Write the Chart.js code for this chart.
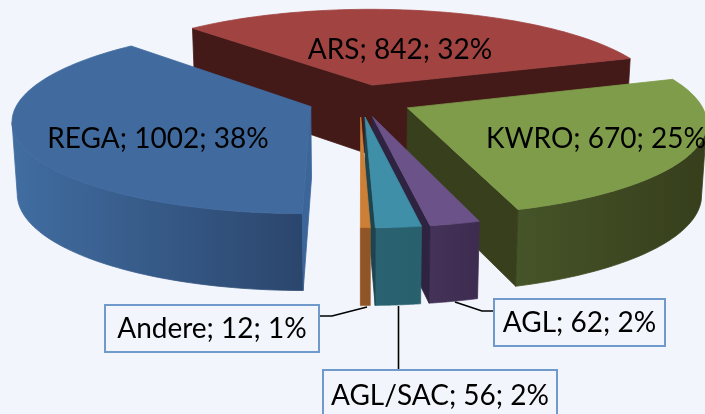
<!DOCTYPE html>
<html>
<head>
<meta charset="utf-8">
<script src="https://cdn.jsdelivr.net/npm/chart.js@4/dist/chart.umd.min.js"></script>
<style>
    html, body { margin: 0; padding: 0; background: #f2f5fb; overflow: hidden; }
    canvas { display: block; }
</style>
</head>
<body>
<canvas id="pieChart" width="705" height="414"></canvas>
<script>
const categories = ['ARS', 'KWRO', 'AGL', 'AGL/SAC', 'Andere', 'REGA'];
const values = [842, 670, 62, 56, 12, 1002];
const percents = [32, 25, 2, 2, 1, 38];

// one colour per slice: top face, side facing the centre, outer wall left and right
const topColors = ['#a04341', '#7f9c4a', '#6b5288', '#3f8fa8', '#cc7f36', '#416b9f'];
const sideColors = ['#431a18', '#383f1c', '#2e2340', '#1d4550', '#8f5526', '#3c6699'];
const wallFrom = ['#6b2c2a', '#465429', '#443258', '#2a6271', '#8f5526', '#416da1'];
const wallTo = ['#6b2c2a', '#363e1b', '#3d2c50', '#28606e', '#8f5526', '#2b466d'];

// camera used to tilt the flat pie
const camera = { x: 360, y: 100.5, flat: 90.3, persp: 0.139, depth: 71, shrink: 0.985 };

// back to front
const drawOrder = [0, 5, 1, 2, 3, 4];

// label placement, same order as categories
const labelLayout = [
    { x: 400, y: 50 },
    { x: 596, y: 139 },
    { x: 579.5, y: 323, box: [494, 299, 171, 47], leader: [[455, 302], [482, 311], [494, 311]] },
    { x: 440, y: 396, box: [323, 370, 234, 50], leader: [[398.5, 306], [398.5, 370]] },
    { x: 212, y: 329, box: [105, 305, 214, 47], leader: [[367, 307], [332, 316], [319, 316]] },
    { x: 158, y: 139 }
];

function project(X, Y, radius) {
    const s = 1 / (1 - Y * camera.persp);
    const px = camera.x + radius * X * s;
    const py = camera.y + camera.flat * Y * s;
    return {
        x: px,
        y: py,
        bx: camera.x + (px - camera.x) * camera.shrink,
        by: py + camera.depth * Math.sqrt(s)
    };
}

function fillPath(ctx, points, style) {
    ctx.beginPath();
    points.forEach((p, i) => i ? ctx.lineTo(p[0], p[1]) : ctx.moveTo(p[0], p[1]));
    ctx.closePath();
    ctx.fillStyle = style;
    ctx.fill();
    ctx.strokeStyle = style;
    ctx.lineWidth = 0.8;
    ctx.stroke();
}

function drawSlice(ctx, arc, i) {
    const radius = arc.outerRadius;
    const mid = (arc.startAngle + arc.endAngle) / 2;
    const explode = arc.options.offset / 4 / radius;
    const ox = Math.cos(mid) * explode;
    const oy = Math.sin(mid) * explode;
    const camY = 1 / camera.persp;

    const apex = project(ox, oy, radius);
    const rim = [];
    const steps = 90;
    for (let n = 0; n <= steps; n++) {
        const t = arc.startAngle + (arc.endAngle - arc.startAngle) * n / steps;
        const X = ox + Math.cos(t);
        const Y = oy + Math.sin(t);
        const p = project(X, Y, radius);
        p.visible = Math.cos(t) * (0 - X) + Math.sin(t) * (camY - Y) > 0;
        rim.push(p);
    }

    // outer wall, only the part turned to the viewer
    const shown = rim.filter(p => p.visible);
    if (shown.length > 1) {
        const xs = shown.map(p => p.x);
        const grad = ctx.createLinearGradient(Math.min(...xs), 0, Math.max(...xs), 0);
        grad.addColorStop(0, wallFrom[i]);
        grad.addColorStop(1, wallTo[i]);
        const outline = shown.map(p => [p.x, p.y]).concat(shown.slice().reverse().map(p => [p.bx, p.by]));
        fillPath(ctx, outline, grad);
    }

    // the two cut faces, as one shape when both show
    const corners = [[arc.startAngle, -1, rim[0]], [arc.endAngle, 1, rim[steps]]].filter(([t, sign]) => {
        const nx = -Math.sin(t) * sign;
        const ny = Math.cos(t) * sign;
        return nx * (0 - ox) + ny * (camY - oy) > 0;
    }).map(face => face[2]);
    if (corners.length === 2) {
        const [a, b] = corners;
        fillPath(ctx, [[apex.x, apex.y], [a.x, a.y], [a.bx, a.by], [apex.bx, apex.by], [b.bx, b.by], [b.x, b.y]], sideColors[i]);
    } else if (corners.length === 1) {
        const c = corners[0];
        fillPath(ctx, [[apex.x, apex.y], [c.x, c.y], [c.bx, c.by], [apex.bx, apex.by]], sideColors[i]);
    }

    fillPath(ctx, [[apex.x, apex.y]].concat(rim.map(p => [p.x, p.y])), arc.options.backgroundColor);
}

function drawLabels(ctx) {
    ctx.font = '28px Lato';
    ctx.textAlign = 'center';
    ctx.textBaseline = 'middle';
    labelLayout.forEach((spot, i) => {
        if (spot.leader) {
            ctx.beginPath();
            spot.leader.forEach((p, n) => n ? ctx.lineTo(p[0], p[1]) : ctx.moveTo(p[0], p[1]));
            ctx.strokeStyle = '#000000';
            ctx.lineWidth = 1.6;
            ctx.stroke();
        }
        if (spot.box) {
            ctx.fillStyle = '#f2f5fb';
            ctx.fillRect(...spot.box);
            ctx.strokeStyle = '#6f9acb';
            ctx.lineWidth = 2;
            ctx.strokeRect(...spot.box);
        }
        ctx.fillStyle = '#000000';
        ctx.fillText(categories[i] + '; ' + values[i] + '; ' + percents[i] + '%', spot.x, spot.y);
    });
}

const tiltedPie = {
    id: 'tiltedPie',
    beforeDatasetsDraw(chart) {
        const arcs = chart.getDatasetMeta(0).data;
        drawOrder.forEach(i => drawSlice(chart.ctx, arcs[i], i));
        drawLabels(chart.ctx);
        return false;
    }
};

new Chart(document.getElementById('pieChart').getContext('2d'), {
    type: 'pie',
    data: {
        labels: categories,
        datasets: [{
            data: values,
            backgroundColor: topColors,
            offset: 210,
            borderWidth: 0
        }]
    },
    options: {
        responsive: false,
        animation: false,
        radius: 292,
        rotation: -43.5,
        plugins: {
            legend: { display: false },
            tooltip: { enabled: false }
        }
    },
    plugins: [tiltedPie]
});
</script>
</body>
</html>
